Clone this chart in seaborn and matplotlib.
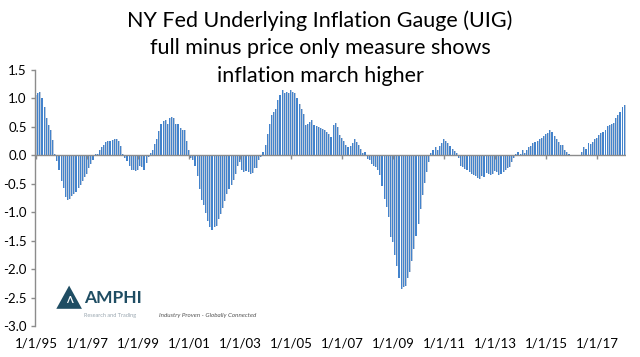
import numpy as np
import pandas as pd
import matplotlib
matplotlib.use('Agg')
import matplotlib.pyplot as plt
from matplotlib.patches import Polygon
import seaborn as sns

# UIG full minus price-only measure, monthly, Jan 1995 - Feb 2018
uig_1995 = [1.07, 1.09, 1.11, 1.00, 0.85, 0.66, 0.53, 0.45, 0.27, 0.02, -0.10, -0.25]
uig_1996 = [-0.45, -0.58, -0.74, -0.78, -0.77, -0.72, -0.68, -0.64, -0.58, -0.52, -0.45, -0.38]
uig_1997 = [-0.32, -0.22, -0.15, -0.08, 0.02, 0.03, 0.10, 0.15, 0.19, 0.23, 0.25, 0.26]
uig_1998 = [0.27, 0.28, 0.28, 0.26, 0.16, 0.02, -0.04, -0.10, -0.18, -0.25, -0.26, -0.27]
uig_1999 = [-0.25, -0.19, -0.20, -0.25, -0.14, -0.03, 0.04, 0.10, 0.20, 0.28, 0.42, 0.55]
uig_2000 = [0.60, 0.62, 0.56, 0.65, 0.68, 0.65, 0.56, 0.55, 0.48, 0.45, 0.45, 0.26]
uig_2001 = [0.09, -0.04, -0.09, -0.18, -0.37, -0.59, -0.78, -0.88, -1.02, -1.15, -1.26, -1.32]
uig_2002 = [-1.26, -1.24, -1.12, -1.03, -0.93, -0.80, -0.68, -0.60, -0.52, -0.43, -0.32, -0.18]
uig_2003 = [-0.12, -0.26, -0.29, -0.27, -0.29, -0.32, -0.31, -0.23, -0.22, -0.09, -0.02, 0.06]
uig_2004 = [0.18, 0.38, 0.56, 0.71, 0.76, 0.82, 0.97, 1.06, 1.15, 1.09, 1.12, 1.10]
uig_2005 = [1.15, 1.12, 1.09, 1.00, 0.91, 0.82, 0.73, 0.53, 0.55, 0.59, 0.62, 0.53]
uig_2006 = [0.51, 0.50, 0.48, 0.46, 0.44, 0.41, 0.38, 0.32, 0.53, 0.57, 0.50, 0.35]
uig_2007 = [0.31, 0.26, 0.18, 0.15, 0.16, 0.22, 0.28, 0.24, 0.18, 0.12, 0.04, 0.06]
uig_2008 = [-0.06, -0.09, -0.15, -0.19, -0.21, -0.26, -0.35, -0.53, -0.76, -0.91, -1.09, -1.44]
uig_2009 = [-1.53, -1.76, -1.94, -2.15, -2.35, -2.31, -2.29, -2.15, -2.05, -1.85, -1.65, -1.41]
uig_2010 = [-1.20, -0.95, -0.70, -0.48, -0.30, -0.12, 0.04, 0.09, 0.15, 0.10, 0.16, 0.21]
uig_2011 = [0.29, 0.25, 0.21, 0.16, 0.12, 0.07, 0.04, -0.05, -0.18, -0.20, -0.24, -0.26]
uig_2012 = [-0.29, -0.32, -0.35, -0.37, -0.39, -0.41, -0.37, -0.38, -0.31, -0.33, -0.35, -0.33]
uig_2013 = [-0.27, -0.30, -0.34, -0.32, -0.29, -0.26, -0.22, -0.20, -0.12, -0.05, 0.03, 0.06]
uig_2014 = [0.03, 0.09, 0.04, 0.09, 0.15, 0.16, 0.21, 0.24, 0.26, 0.29, 0.31, 0.34]
uig_2015 = [0.38, 0.39, 0.45, 0.41, 0.34, 0.29, 0.24, 0.18, 0.18, 0.10, 0.06, 0.02]
uig_2016 = [0.00, -0.01, 0.01, -0.01, 0.00, 0.06, 0.14, 0.12, 0.21, 0.20, 0.24, 0.28]
uig_2017 = [0.31, 0.35, 0.39, 0.41, 0.45, 0.51, 0.54, 0.56, 0.57, 0.65, 0.71, 0.76]
uig_2018 = [0.85, 0.88]

tick_labels = ["1/1/95", "1/1/97", "1/1/99", "1/1/01", "1/1/03", "1/1/05",
               "1/1/07", "1/1/09", "1/1/11", "1/1/13", "1/1/15", "1/1/17"]
y_ticks = [-3.0, -2.5, -2.0, -1.5, -1.0, -0.5, 0.0, 0.5, 1.0, 1.5]

values = np.concatenate([uig_1995, uig_1996, uig_1997, uig_1998, uig_1999, uig_2000,
                         uig_2001, uig_2002, uig_2003, uig_2004, uig_2005, uig_2006,
                         uig_2007, uig_2008, uig_2009, uig_2010, uig_2011, uig_2012,
                         uig_2013, uig_2014, uig_2015, uig_2016, uig_2017, uig_2018])
df = pd.DataFrame({"pos": np.arange(len(values)), "uig": values})

sns.set_theme(style="white")
plt.rcParams['font.family'] = ['Lato', 'DejaVu Sans']

fig = plt.figure(figsize=(6.4, 3.57), dpi=100)
ax = fig.add_axes([0.0547, 0.0868, 0.923, 0.717])

# light body of each bar, then a darker blue stripe on its left side (Excel gradient look)
sns.barplot(data=df, x="pos", y="uig", native_scale=True, width=0.9,
            color="#bccadc", saturation=1, errorbar=None, linewidth=0, ax=ax)
df_stripe = df.assign(pos=df["pos"] - 0.2)
sns.barplot(data=df_stripe, x="pos", y="uig", native_scale=True, width=0.5,
            color="#4383cc", saturation=1, errorbar=None, linewidth=0, ax=ax)
for p in ax.patches:
    p.set_antialiased(False)

ax.set_xlim(-0.5, len(values) - 0.5)
ax.set_ylim(-3.0, 1.5)
ax.axhline(0, color="#8c8c8c", lw=1.0, zorder=3)

tick_pos = np.arange(0, len(values), 24)
ax.vlines(tick_pos, -0.07, 0, color="#8c8c8c", lw=1.0, zorder=3)
ax.set_xticks(tick_pos)
ax.set_xticklabels(tick_labels)
ax.set_yticks(y_ticks)
ax.set_yticklabels([f"{v:.1f}" for v in y_ticks])
ax.tick_params(axis="x", length=0, pad=8, labelsize=9.5, colors="black")
ax.tick_params(axis="y", length=3, width=1, pad=3, labelsize=9.5, left=True,
               colors="#8c8c8c", labelcolor="black")
ax.set_xlabel("")
ax.set_ylabel("")
for side in ["top", "right", "bottom"]:
    ax.spines[side].set_visible(False)
ax.spines["left"].set_color("#8c8c8c")
ax.spines["left"].set_linewidth(1.0)

# title
title_lines = ["NY Fed Underlying Inflation Gauge (UIG)",
               "full minus price only measure shows",
               "inflation march higher"]
for i, line in enumerate(title_lines):
    fig.text(0.5, 1 - (21 + 27.5 * i) / 357, line, ha="center", va="center",
             fontsize=15.5, fontweight="normal", color="#000000")

# AMPHI logo
logo = Polygon([[0.088, 0.135], [0.108, 0.200], [0.128, 0.135]], closed=True,
               transform=fig.transFigure, facecolor="#1f4d63", edgecolor="none")
fig.patches.append(logo)
fig.text(0.108, 0.158, "Λ", ha="center", va="center", fontsize=7, color="white",
         fontweight="bold")
fig.text(0.131, 0.166, "AMPHI", ha="left", va="center", fontsize=12.5,
         fontweight="bold", color="#1f4d63")
fig.text(0.131, 0.117, "Research and Trading", ha="left", va="center", fontsize=4,
         color="#9aa7b0")
fig.text(0.248, 0.117, "Industry Proven - Globally Connected", ha="left", va="center",
         fontsize=4.5, style="italic", color="#555555")

fig.savefig("out.png", dpi=100)
